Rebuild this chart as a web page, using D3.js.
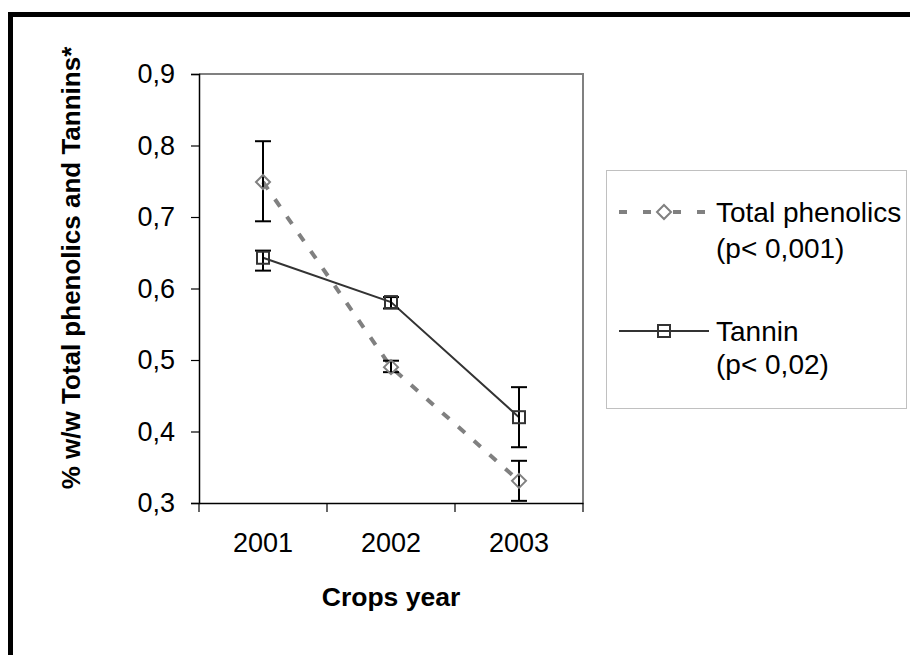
<!DOCTYPE html>
<html><head><meta charset="utf-8">
<script src="https://cdn.jsdelivr.net/npm/d3@7"></script>
<style>body{margin:0;background:#fff}svg{display:block}text{font-family:Arial,"Liberation Sans",sans-serif}</style>
</head><body>
<script>
const years = ["2001","2002","2003"];
const phenolics = [0.749, 0.490, 0.331];
const phenolicsLow = [0.694, 0.483, 0.303];
const phenolicsHigh = [0.806, 0.499, 0.359];
const tannin = [0.643, 0.581, 0.420];
const tanninLow = [0.625, 0.572, 0.378];
const tanninHigh = [0.653, 0.588, 0.462];
const yTicks = [0.3,0.4,0.5,0.6,0.7,0.8,0.9];
const legendLabels = [["Total phenolics","(p< 0,001)"],["Tannin","(p< 0,02)"]];

const W=910,H=655;
const svg=d3.select("body").append("svg").attr("width",W).attr("height",H);
svg.append("rect").attr("width",W).attr("height",H).attr("fill","#fff");
// outer frame
svg.append("rect").attr("x",10.5).attr("y",14.5).attr("width",1000).attr("height",1000)
  .attr("fill","none").attr("stroke","#000").attr("stroke-width",5);

const L=199,R=583,T=74,B=503;
const x=d3.scaleBand().domain(years).range([L,R]);
const y=d3.scaleLinear().domain([0.3,0.9]).range([B,T]);
const fmt=d=>d3.format(".1f")(d).replace(".",",");

// plot border top/right gray
svg.append("path").attr("d",`M${L},${T}H${R}V${B}`).attr("fill","none").attr("stroke","#808080").attr("stroke-width",2);

// y axis
const ya=svg.append("g").attr("transform",`translate(${L},0)`)
  .call(d3.axisLeft(y).tickValues(yTicks).tickFormat(fmt).tickSize(8).tickPadding(16));
ya.select(".domain").attr("stroke","#000").attr("stroke-width",1.5);
ya.selectAll(".tick line").attr("stroke","#000").attr("stroke-width",1.2);
ya.selectAll("text").attr("font-size",27).attr("fill","#000").attr("font-family","Arial, 'Liberation Sans', sans-serif");

// x axis
const xa=svg.append("g").attr("transform",`translate(0,${B})`)
  .call(d3.axisBottom(x).tickSize(0).tickPadding(30));
xa.select(".domain").attr("stroke","#000").attr("stroke-width",1.5);
xa.selectAll(".tick line").remove();
xa.selectAll("text").attr("font-size",27).attr("fill","#000").attr("font-family","Arial, 'Liberation Sans', sans-serif");
// category boundary ticks
const bounds=years.map(d=>x(d)).concat([R]);
svg.append("g").selectAll("line").data(bounds).join("line")
  .attr("x1",d=>d).attr("x2",d=>d).attr("y1",B).attr("y2",B+9)
  .attr("stroke","#000").attr("stroke-width",1.2);

// titles
svg.append("text").attr("x",(L+R)/2).attr("y",606).attr("text-anchor","middle")
  .attr("font-size",26.5).attr("font-weight","bold").text("Crops year");
svg.append("text").attr("transform","translate(80,268) rotate(-90)").attr("text-anchor","middle")
  .attr("font-size",26).attr("font-weight","bold").text("% w/w Total phenolics and Tannins*");

const cx=i=>x(years[i])+x.bandwidth()/2;
const line=d3.line().x((d,i)=>cx(i)).y(d=>y(d));

// phenolics line
svg.append("path").attr("d",line(phenolics)).attr("fill","none").attr("stroke","#808080")
  .attr("stroke-width",4).attr("stroke-dasharray","9,12");
// tannin line
svg.append("path").attr("d",line(tannin)).attr("fill","none").attr("stroke","#333")
  .attr("stroke-width",2);

function errBars(lo,hi){
  const g=svg.append("g");
  years.forEach((yr,i)=>{
    g.append("line").attr("x1",cx(i)).attr("x2",cx(i)).attr("y1",y(lo[i])).attr("y2",y(hi[i])).attr("stroke","#000").attr("stroke-width",2);
    [lo[i],hi[i]].forEach(v=>g.append("line").attr("x1",cx(i)-8).attr("x2",cx(i)+8).attr("y1",y(v)).attr("y2",y(v)).attr("stroke","#000").attr("stroke-width",2));
  });
}
errBars(phenolicsLow,phenolicsHigh);
errBars(tanninLow,tanninHigh);

function diamond(g,px,py){
  g.append("path").attr("d",`M${px},${py-7}L${px+7},${py}L${px},${py+7}L${px-7},${py}Z`)
   .attr("fill","none").attr("stroke","#808080").attr("stroke-width",2);
}
function square(g,px,py){
  g.append("rect").attr("x",px-6).attr("y",py-6).attr("width",12).attr("height",12)
   .attr("fill","none").attr("stroke","#333").attr("stroke-width",2);
}
const mk=svg.append("g");
phenolics.forEach((v,i)=>diamond(mk,cx(i),y(v)));
tannin.forEach((v,i)=>square(mk,cx(i),y(v)));

// legend
const lg=svg.append("g");
lg.append("rect").attr("x",606.5).attr("y",170.5).attr("width",300).attr("height",238)
  .attr("fill","#fff").attr("stroke","#c0c0c0").attr("stroke-width",1);
lg.append("line").attr("x1",619).attr("x2",709).attr("y1",212).attr("y2",212)
  .attr("stroke","#808080").attr("stroke-width",4).attr("stroke-dasharray","8,16,8,0,0,22,8,16,8");
diamond(lg,664,212);
lg.append("line").attr("x1",619).attr("x2",709).attr("y1",331).attr("y2",331)
  .attr("stroke","#333").attr("stroke-width",2);
square(lg,664,331);
const ly=[[212,248],[331,364]];
legendLabels.forEach((lab,k)=>{
  lab.forEach((t,j)=>{
    lg.append("text").attr("x",716).attr("y",ly[k][j]).attr("dy","0.35em")
      .attr("font-size",28).text(t);
  });
});
</script>
</body></html>
